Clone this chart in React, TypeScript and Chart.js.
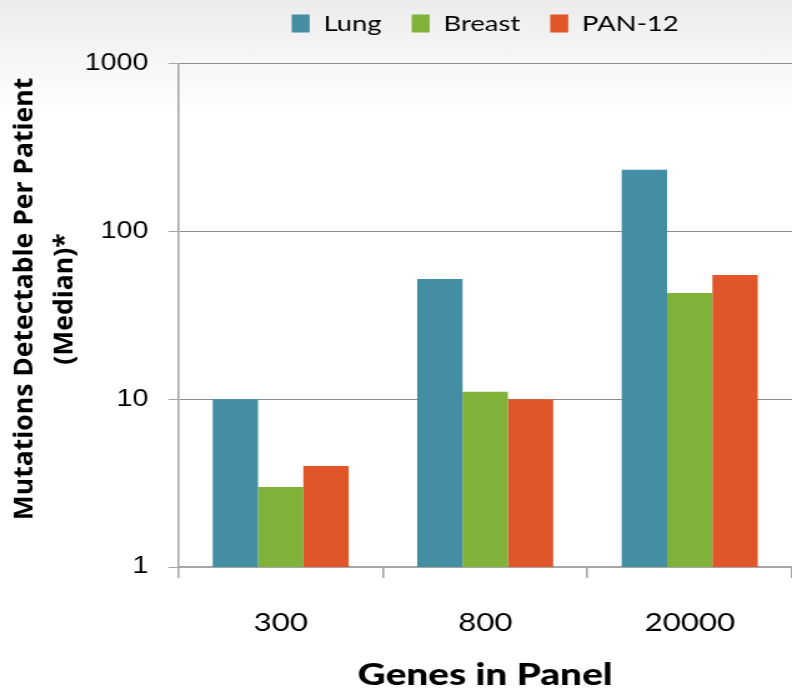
import React, { useEffect, useRef } from 'react';
import { Chart, registerables } from 'chart.js';

Chart.register(...registerables);

// ---- data ----
const categories = ['300', '800', '20000'];
const seriesNames = ['Lung', 'Breast', 'PAN-12'];
const lungValues = [10, 52, 233];
const breastValues = [3, 11.1, 43];
const pan12Values = [4, 10, 55];
const yTickValues = [1, 10, 100, 1000];
const yTitleLines = ['Mutations Detectable Per Patient', '(Median)*'];
const xTitleText = 'Genes in Panel';

// ---- page geometry ----
const W = 792;
const H = 694;
const CW = 634; // internal canvas width; displayed stretched to W (reference text is horizontally stretched)

const yTitlePlugin = {
  id: 'yTitleUnstretched',
  afterDraw(chart: any) {
    const ctx = chart.ctx as CanvasRenderingContext2D;
    const s = W / chart.width;
    ctx.save();
    ctx.scale(1 / s, 1);
    ctx.fillStyle = '#000';
    ctx.font = 'bold 26.5px "Open Sans"';
    ctx.textAlign = 'center';
    ctx.textBaseline = 'alphabetic';
    const cy = 299;
    const baselines = [33, 73];
    yTitleLines.forEach((t, i) => {
      ctx.save();
      ctx.translate(baselines[i], cy);
      ctx.rotate(-Math.PI / 2);
      ctx.fillText(t, 0, 0);
      ctx.restore();
    });
    ctx.restore();
  },
};

export default function App() {
  const ref = useRef<HTMLCanvasElement>(null);

  useEffect(() => {
    const canvas = ref.current;
    if (!canvas) return;
    const chart = new Chart(canvas, {
      type: 'bar',
      data: {
        labels: categories,
        datasets: [
          { label: seriesNames[0], data: lungValues, backgroundColor: '#438EA2' },
          { label: seriesNames[1], data: breastValues, backgroundColor: '#80B23A' },
          { label: seriesNames[2], data: pan12Values, backgroundColor: '#E05529' },
        ],
      },
      options: {
        responsive: false,
        animation: false,
        devicePixelRatio: 1,
        layout: { padding: { top: -11.5, right: -4, bottom: 0, left: 0 } },
        datasets: {
          bar: { categoryPercentage: 0.665, barPercentage: 1, borderWidth: 0 },
        },
        plugins: {
          legend: {
            position: 'top',
            fullSize: false,
            labels: {
              font: { family: 'Lato', size: 22 },
              color: '#000',
              boxWidth: 14.4,
              boxHeight: 18,
              padding: 24,
            },
          },
          title: {
            display: true,
            text: '',
            position: 'top',
            weight: 0,
            font: { size: 1 },
            padding: { top: 0, bottom: 18 },
          },
          tooltip: { enabled: false },
        },
        scales: {
          x: {
            offset: true,
            grid: {
              offset: true,
              drawOnChartArea: false,
              drawTicks: true,
              tickLength: 11,
              color: '#a6a6a6',
              lineWidth: 1.6,
            },
            border: { display: true, color: '#a6a6a6', width: 2 },
            ticks: {
              font: { family: 'Lato', size: 25 },
              color: '#000',
              padding: 30,
              maxRotation: 0,
            },
            title: {
              display: true,
              text: xTitleText,
              font: { family: 'Lato', size: 31, weight: '900' },
              color: '#000',
              padding: { top: 0, bottom: 0 },
            },
            afterFit: (s: any) => {
              s.height = 127;
            },
          },
          y: {
            type: 'logarithmic',
            min: 1,
            max: 1000,
            afterBuildTicks: (s: any) => {
              s.ticks = yTickValues.map((v) => ({ value: v }));
            },
            afterFit: (s: any) => {
              s.width = 142.8;
            },
            grid: {
              color: (c: any) => (c.tick && c.tick.value === 1 ? 'rgba(0,0,0,0)' : '#8c8c8c'),
              lineWidth: 1,
              drawTicks: true,
              tickLength: 8,
              tickColor: '#a6a6a6',
            },
            border: { color: '#a6a6a6', width: 1.6 },
            ticks: {
              font: { family: 'Liberation Sans', size: 23 },
              color: '#000',
              padding: 16,
              callback: (v: any) => String(v),
            },
          },
        },
      },
      plugins: [yTitlePlugin],
    } as any);
    return () => chart.destroy();
  }, []);

  return (
    <div
      style={{
        position: 'absolute',
        left: 0,
        top: 0,
        width: W,
        height: H,
        background: 'linear-gradient(#ececec 0px, #ffffff 115px)',
      }}
    >
      <canvas
        ref={ref}
        width={CW}
        height={H}
        style={{ display: 'block', width: W + 'px', height: H + 'px' }}
      />
    </div>
  );
}
